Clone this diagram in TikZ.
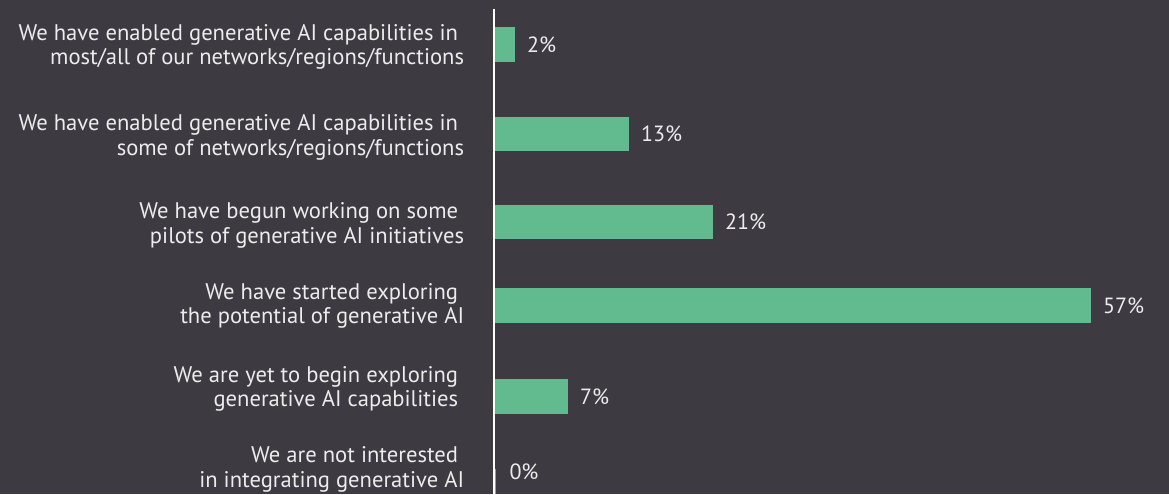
\documentclass[tikz,border=0pt]{standalone}
\usepackage{fontspec}
\setmainfont{PT Sans}
\definecolor{bg}{RGB}{62,58,66}
\definecolor{bar}{RGB}{98,187,142}
\definecolor{ink}{RGB}{236,236,236}
\newcommand{\trail}{\kern6pt}
\begin{document}
\begin{tikzpicture}[x=1pt,y=-1pt,
    lab/.style={anchor=base east,align=right,text=ink,inner sep=0pt,
      font=\fontsize{22.6}{24.5}\selectfont},
    val/.style={anchor=west,text=ink,inner sep=0pt,
      font=\fontsize{22}{24.5}\selectfont},
    barbox/.style={fill=bar,draw=none,anchor=west,inner sep=0pt,outer sep=0pt,
      minimum height=34.5pt}]
  \fill[bg] (0,0) rectangle (1169,494);
  % row labels
  \node[lab] (l1) at (464.3,65) {We have enabled generative AI capabilities in\trail\\most/all of our networks/regions/functions};
  \node[lab] (l2) at (464.3,155) {We have enabled generative AI capabilities in\trail\\some of networks/regions/functions};
  \node[lab] (l3) at (464.3,243.3) {We have begun working on some\trail\\pilots of generative AI initiatives};
  \node[lab] (l4) at (464.3,323.8) {We have started exploring\trail\\the potential of generative AI};
  \node[lab] (l5) at (464.3,406.7) {We are yet to begin exploring\trail\\generative AI capabilities\trail};
  \node[lab] (l6) at (464.3,487.3) {We are not interested\trail\\in integrating generative AI};
  % bars
  \node[barbox,minimum width=21pt] (b1) at (494,44.3) {};
  \node[barbox,minimum width=135pt] (b2) at (494,134) {};
  \node[barbox,minimum width=219pt] (b3) at (494,222) {};
  \node[barbox,minimum width=597pt] (b4) at (494,305.5) {};
  \node[barbox,minimum width=74pt] (b5) at (494,396.5) {};
  \node[barbox,minimum width=1.5pt,minimum height=25pt] (b6) at (494,481.5) {};
  % values
  \node[val] (v1) at ([xshift=12pt]b1.east) {2\%};
  \node[val] (v2) at ([xshift=12pt]b2.east) {13\%};
  \node[val] (v3) at ([xshift=12pt]b3.east) {21\%};
  \node[val] (v4) at ([xshift=12pt]b4.east) {57\%};
  \node[val] (v5) at ([xshift=12pt]b5.east) {7\%};
  \node[val] (v6) at (509.3,471.8) {0\%};
  % axis
  \coordinate (top) at (494,9);
  \coordinate (bot) at (494,494);
  \draw[white,line width=1.2pt] (top) -- (bot);
\end{tikzpicture}
\end{document}
